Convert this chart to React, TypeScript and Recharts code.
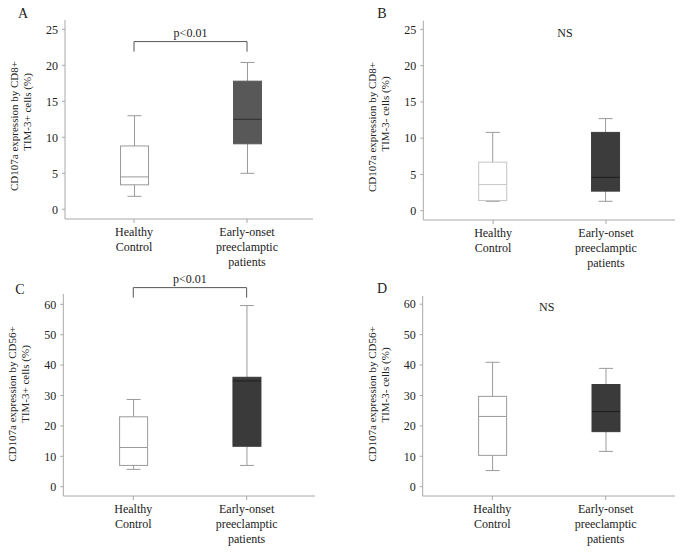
import React from "react";
import { ComposedChart, Bar, XAxis, YAxis, ReferenceLine, Cell } from "recharts";

// five-number summaries: [min, q1, median, q3, max]
type Stats = [number, number, number, number, number];

const categories = ["Healthy\nControl", "Early-onset\npreeclamptic\npatients"];

const aHealthy: Stats = [1.8, 3.4, 4.5, 8.8, 13.0];
const aEarly: Stats = [5.0, 9.1, 12.5, 17.8, 20.4];
const bHealthy: Stats = [1.3, 1.4, 3.6, 6.7, 10.8];
const bEarly: Stats = [1.3, 2.7, 4.6, 10.8, 12.7];
const cHealthy: Stats = [5.7, 7.0, 12.9, 23.0, 28.7];
const cEarly: Stats = [7.0, 13.3, 34.8, 36.0, 59.6];
const dHealthy: Stats = [5.3, 10.3, 23.1, 29.7, 40.9];
const dEarly: Stats = [11.6, 18.1, 24.7, 33.6, 38.9];

const ticksCD8 = [0, 5, 10, 15, 20, 25];
const ticksCD56 = [0, 10, 20, 30, 40, 50, 60];

const FONT = '"Liberation Serif", "Times New Roman", serif';
const AXIS = "#a8a8a8";
const WHISKER = "#9a9a9a";
const TEXT = "#222";

const toRows = (h: Stats, e: Stats) =>
  categories.map((name, i) => {
    const s = i === 0 ? h : e;
    return { name, min: s[0], q1: s[1], median: s[2], q3: s[3], max: s[4] };
  });

function BoxShape(props: any) {
  const { x, y, width, height, payload, fill, stroke, median } = props;
  const top = Math.min(y, y + height);
  const bot = Math.max(y, y + height);
  const span = payload.max - payload.min || 1;
  const py = (v: number) => bot - ((v - payload.min) / span) * (bot - top);
  const cx = x + width / 2;
  const cap = 7;
  return (
    <g>
      <line x1={cx} x2={cx} y1={py(payload.max)} y2={py(payload.q3)} stroke={WHISKER} />
      <line x1={cx} x2={cx} y1={py(payload.q1)} y2={py(payload.min)} stroke={WHISKER} />
      <line x1={cx - cap} x2={cx + cap} y1={py(payload.max)} y2={py(payload.max)} stroke={WHISKER} />
      <line x1={cx - cap} x2={cx + cap} y1={py(payload.min)} y2={py(payload.min)} stroke={WHISKER} />
      <rect x={x} y={py(payload.q3)} width={width} height={py(payload.q1) - py(payload.q3)} fill={fill} stroke={stroke} />
      <line x1={x} x2={x + width} y1={py(payload.median)} y2={py(payload.median)} stroke={median} />
    </g>
  );
}

function CategoryTick(props: any) {
  const { x, y, payload } = props;
  const lines = String(payload.value).split("\n");
  return (
    <text x={x} y={y} textAnchor="middle" fontFamily={FONT} fontSize={12} fill={TEXT}>
      {lines.map((l, i) => (
        <tspan key={i} x={x} dy={i === 0 ? 11 : 15}>
          {l}
        </tspan>
      ))}
    </text>
  );
}

type Panel = {
  letter: string;
  left: number;
  top: number;
  w: number;
  h: number;
  x0: number;
  x1: number;
  y0: number;
  y1: number;
  domain: [number, number];
  ticks: number[];
  pad: [number, number];
  rows: ReturnType<typeof toRows>;
  fills: string[];
  strokes: string[];
  medians: string[];
  label: [string, string];
  labelY: [number, number];
  letterPos: [number, number];
  bracket?: [number, number];
  ns?: [number, number];
};

const panels: Panel[] = [
  {
    letter: "A", left: 0, top: 0, w: 341, h: 276,
    x0: 65, x1: 313, y0: 20, y1: 219, domain: [-1.35, 26.3], ticks: ticksCD8, pad: [12.5, 9.5],
    rows: toRows(aHealthy, aEarly),
    fills: ["#fff", "#585858"], strokes: ["#9a9a9a", "#585858"], medians: ["#9a9a9a", "#2e2e2e"],
    label: ["CD107a expression by CD8+", "TIM-3+ cells (%)"], labelY: [126, 112], letterPos: [23, 13],
    bracket: [23.3, 21.9],
  },
  {
    letter: "B", left: 340, top: 0, w: 343, h: 276,
    x0: 83.3, x1: 335, y0: 20.7, y1: 220, domain: [-1.28, 26.2], ticks: ticksCD8, pad: [13.4, 12.6],
    rows: toRows(bHealthy, bEarly),
    fills: ["#fff", "#3c3c3c"], strokes: ["#c4c4c4", "#3c3c3c"], medians: ["#c4c4c4", "#1e1e1e"],
    label: ["CD107a expression by CD8+", "TIM-3- cells (%)"], labelY: [127, 114], letterPos: [42, 13],
    ns: [225, 33],
  },
  {
    letter: "C", left: 0, top: 262, w: 341, h: 290,
    x0: 63.3, x1: 315, y0: 32, y1: 234, domain: [-3.06, 63.4], ticks: ticksCD56, pad: [13.3, 11.7],
    rows: toRows(cHealthy, cEarly),
    fills: ["#fff", "#3a3a3a"], strokes: ["#9a9a9a", "#3a3a3a"], medians: ["#9a9a9a", "#1e1e1e"],
    label: ["CD107a expression by CD56+", "TIM-3+ cells (%)"], labelY: [132, 122], letterPos: [20, 27],
    bracket: [65.5, 62.2],
  },
  {
    letter: "D", left: 340, top: 262, w: 343, h: 290,
    x0: 82.7, x1: 335, y0: 34, y1: 234, domain: [-3.06, 62.7], ticks: ticksCD56, pad: [12.9, 12.6],
    rows: toRows(dHealthy, dEarly),
    fills: ["#fff", "#3a3a3a"], strokes: ["#9a9a9a", "#3a3a3a"], medians: ["#9a9a9a", "#1e1e1e"],
    label: ["CD107a expression by CD56+", "TIM-3- cells (%)"], labelY: [132, 123], letterPos: [42, 26],
    ns: [206.7, 45],
  },
];

const Y_W = 40;
const X_H = 50;

function BoxPanel({ p }: { p: Panel }) {
  const margin = { top: p.y0, right: p.w - p.x1, bottom: p.h - p.y1 - X_H, left: p.x0 - Y_W };
  return (
    <div style={{ position: "absolute", left: p.left, top: p.top, width: p.w, height: p.h }}>
      <ComposedChart width={p.w} height={p.h} data={p.rows} margin={margin}>
        <XAxis
          dataKey="name"
          type="category"
          interval={0}
          height={X_H}
          padding={{ left: p.pad[0], right: p.pad[1] }}
          axisLine={{ stroke: AXIS }}
          tickLine={{ stroke: AXIS }}
          tickSize={4}
          tickMargin={2}
          tick={<CategoryTick />}
        />
        <YAxis
          type="number"
          width={Y_W}
          domain={p.domain}
          ticks={p.ticks}
          allowDataOverflow
          axisLine={{ stroke: AXIS }}
          tickLine={{ stroke: AXIS }}
          tickSize={3}
          tickMargin={4}
          tick={{ fontFamily: FONT, fontSize: 12, fill: TEXT }}
        />
        <Bar
          dataKey={(d: any) => [d.min, d.max]}
          barSize={28}
          isAnimationActive={false}
          shape={(props: any) => (
            <BoxShape
              {...props}
              fill={p.fills[props.index]}
              stroke={p.strokes[props.index]}
              median={p.medians[props.index]}
            />
          )}
        >
          {p.rows.map((r, i) => (
            <Cell key={r.name} fill={p.fills[i]} />
          ))}
        </Bar>
        {p.bracket && (
          <ReferenceLine
            ifOverflow="visible"
            stroke="#555"
            segment={[
              { x: categories[0], y: p.bracket[0] },
              { x: categories[1], y: p.bracket[0] },
            ]}
            label={{ value: "p<0.01", position: "top", fontFamily: FONT, fontSize: 12, fill: TEXT }}
          />
        )}
        {p.bracket && (
          <ReferenceLine
            ifOverflow="visible"
            stroke="#555"
            segment={[
              { x: categories[0], y: p.bracket[0] },
              { x: categories[0], y: p.bracket[1] },
            ]}
          />
        )}
        {p.bracket && (
          <ReferenceLine
            ifOverflow="visible"
            stroke="#555"
            segment={[
              { x: categories[1], y: p.bracket[0] },
              { x: categories[1], y: p.bracket[1] },
            ]}
          />
        )}
        {p.ns && (
          <text x={p.ns[0]} y={p.ns[1]} textAnchor="middle" dominantBaseline="central" fontFamily={FONT} fontSize={12} fill={TEXT}>
            NS
          </text>
        )}
        <text x={p.letterPos[0]} y={p.letterPos[1]} textAnchor="middle" dominantBaseline="central" fontFamily={FONT} fontSize={14} fill={TEXT}>
          {p.letter}
        </text>
        <text
          transform={`translate(${p.x0 - 51}, ${p.labelY[0]}) rotate(-90)`}
          textAnchor="middle"
          dominantBaseline="central"
          fontFamily={FONT}
          fontSize={11}
          fill={TEXT}
        >
          {p.label[0]}
        </text>
        <text
          transform={`translate(${p.x0 - 38}, ${p.labelY[1]}) rotate(-90)`}
          textAnchor="middle"
          dominantBaseline="central"
          fontFamily={FONT}
          fontSize={11}
          fill={TEXT}
        >
          {p.label[1]}
        </text>
      </ComposedChart>
    </div>
  );
}

export default function App() {
  return (
    <div style={{ position: "absolute", left: 0, top: 0, width: 683, height: 552, background: "#fff", overflow: "hidden" }}>
      {panels.map((p) => (
        <BoxPanel key={p.letter} p={p} />
      ))}
    </div>
  );
}
